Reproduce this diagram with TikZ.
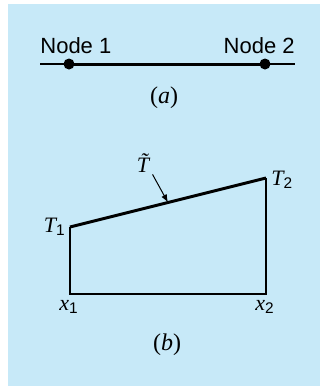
\documentclass[tikz,border=0pt]{standalone}
\usepackage{fontspec}
\setmainfont{Liberation Serif}
\setsansfont{Liberation Sans}
\usetikzlibrary{arrows.meta,positioning,calc}
\definecolor{panelblue}{RGB}{199,233,248}

\begin{document}
\begin{tikzpicture}[
  x=0.5pt, y=-0.5pt,
  every node/.style={inner sep=0pt},
  dot/.style={circle, fill=black, minimum size=5.5pt},
  thinline/.style={line width=0.6pt},
  thickline/.style={line width=1.5pt},
  flow/.style={-{Latex[length=4pt,width=3pt]}, line width=0.5pt},
  nodelbl/.style={font=\sffamily\fontsize{11}{13}\selectfont},
  caption/.style={font=\fontsize{12}{14}\selectfont},
  varlbl/.style={font=\fontsize{11}{13}\selectfont\itshape}
]
\useasboundingbox (0,0) rectangle (320,386);
\fill[panelblue] (8,4) rectangle (320,386);

% (a) element with two nodes
\coordinate (lineL) at (40,64);
\coordinate (lineR) at (295,64);
\node[dot] (n1) at (69,64) {};
\node[dot] (n2) at (265,64) {};
\draw[thinline] (lineL) -- (lineR);
\draw[thickline] (n1.center) -- (n2.center);
\node[nodelbl, anchor=base west] (lab1) at (40,53) {Node 1};
\node[nodelbl, anchor=base east] (lab2) at (295,53) {Node 2};
\node[caption, anchor=base] (capa) at (164,103) {(\textit{a})};

% (b) linear variation over the element
\coordinate (T1pt) at (70,227);
\coordinate (T2pt) at (266,178);
\coordinate (x1pt) at (70,294);
\coordinate (x2pt) at (266,294);
\coordinate (onslope) at ($(T1pt)!0.5!(T2pt)$);
\draw[thinline] (T1pt) -- (x1pt) -- (x2pt) -- (T2pt);
\draw[thickline] (T1pt) -- (T2pt);
\node[varlbl, anchor=base east] (t1) at (66,232) {T\textsubscript{\upshape\sffamily 1}};
\node[varlbl, anchor=base west] (t2) at (271,185) {T\textsubscript{\upshape\sffamily 2}};
\node[varlbl, anchor=base] (x1) at (69,310) {x\textsubscript{\upshape\sffamily 1}};
\node[varlbl, anchor=base] (x2) at (265,310) {x\textsubscript{\upshape\sffamily 2}};
\node[varlbl, anchor=base] (tt) at (143,172) {\~{T}};
\draw[flow] ([xshift=1.5pt,yshift=-1pt]tt.south east) -- (onslope);
\node[caption, anchor=base] (capb) at (167,350) {(\textit{b})};
\end{tikzpicture}
\end{document}
